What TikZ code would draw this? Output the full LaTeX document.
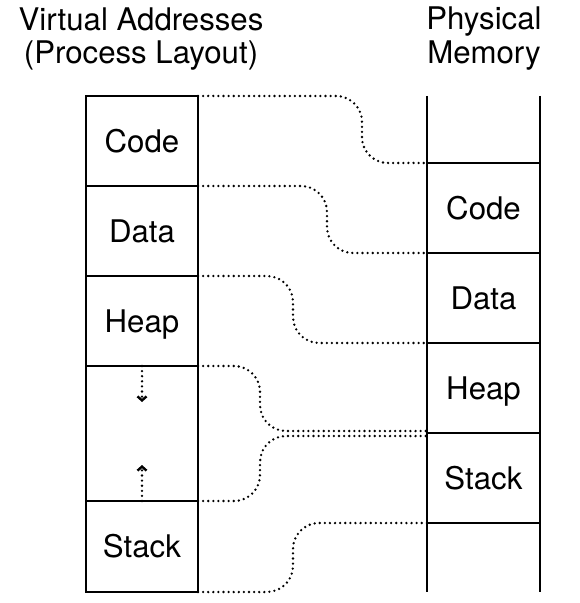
\documentclass[tikz,border=0pt]{standalone}
\usepackage{fontspec}
\setmainfont{TeX Gyre Heros}
\usetikzlibrary{arrows.meta}

\newcommand{\labelfont}{\fontsize{15.6}{16.6}\selectfont}

\tikzset{
  cell/.style={draw, line width=0.85pt, minimum width=56pt, minimum height=45pt,
    inner sep=0pt, outer sep=0pt, text height=11.1pt, text depth=0pt, font=\labelfont},
  heading/.style={anchor=base, inner sep=0pt, font=\labelfont},
  wall/.style={line width=1.05pt},
  link/.style={line width=1.3pt, line cap=round, dash pattern=on 0pt off 2.55pt,
    rounded corners=13pt},
  growarrow/.style={line width=1.3pt, line cap=round, dash pattern=on 0pt off 2.55pt,
    -{Straight Barb[length=2pt,width=4.5pt,line width=1.2pt]}}
}

\begin{document}
\begin{tikzpicture}[x=0.5pt, y=-0.5pt]
    \useasboundingbox (0,0) rectangle (579,603);
    \begin{scope}
      \node[heading] (vhead) at (141,31) {Virtual Addresses};
      \node[heading] (vsub) at (141,64) {(Process Layout)};
      \node[heading] (phead) at (484,30) {Physical};
      \node[heading] (psub) at (484,64) {Memory};
    \end{scope}
    \begin{scope}
      \node[cell] (code) at (142,141) {Code};
      \node[cell] (data) at (142,231) {Data};
      \node[cell] (heap) at (142,321) {Heap};
      \node[cell, minimum height=67.5pt] (gap) at (142,433.5) {};
      \node[cell, minimum height=45.5pt] (stack) at (142,546.5) {Stack};
      \draw[line width=1.25pt] (code.north west) rectangle (stack.south east);
      \draw[growarrow] (gap.north) -- ([yshift=-18pt]gap.north);
      \draw[growarrow] (gap.south) -- ([yshift=18pt]gap.south);
    \end{scope}
    \begin{scope}
      \node[cell, minimum width=56.5pt] (pcode) at (483.5,208) {Code};
      \node[cell, minimum width=56.5pt] (pdata) at (483.5,298) {Data};
      \node[cell, minimum width=56.5pt] (pheap) at (483.5,388) {Heap};
      \node[cell, minimum width=56.5pt] (pstack) at (483.5,478) {Stack};
      \draw[wall] (pcode.west |- code.north) -- (pcode.west |- stack.south);
      \draw[wall] (pcode.east |- code.north) -- (pcode.east |- stack.south);
    \end{scope}
    \begin{scope}
      \coordinate (lane1) at (362,0);
      \coordinate (lane2) at (327,0);
      \coordinate (lane3) at (293,0);
      \coordinate (lane4) at (260,0);
      \coordinate (meettop) at ([yshift=1pt]pstack.north west);
      \coordinate (meetlow) at ([yshift=-1.5pt]pstack.north west);
      \draw[link] (code.north east) -| (lane1 |- pcode.north west) -- (pcode.north west);
      \draw[link] (data.north east) -| (lane2 |- pdata.north west) -- (pdata.north west);
      \draw[link] (heap.north east) -| (lane3 |- pheap.north west) -- (pheap.north west);
      \draw[link] (gap.north east) -| (lane4 |- meettop) -- (meettop);
      \draw[link] (gap.south east) -| (lane4 |- meetlow) -- (meetlow);
      \draw[link] (stack.south east) -| (lane3 |- pstack.south west) -- (pstack.south west);
    \end{scope}
  \end{tikzpicture}
\end{document}
